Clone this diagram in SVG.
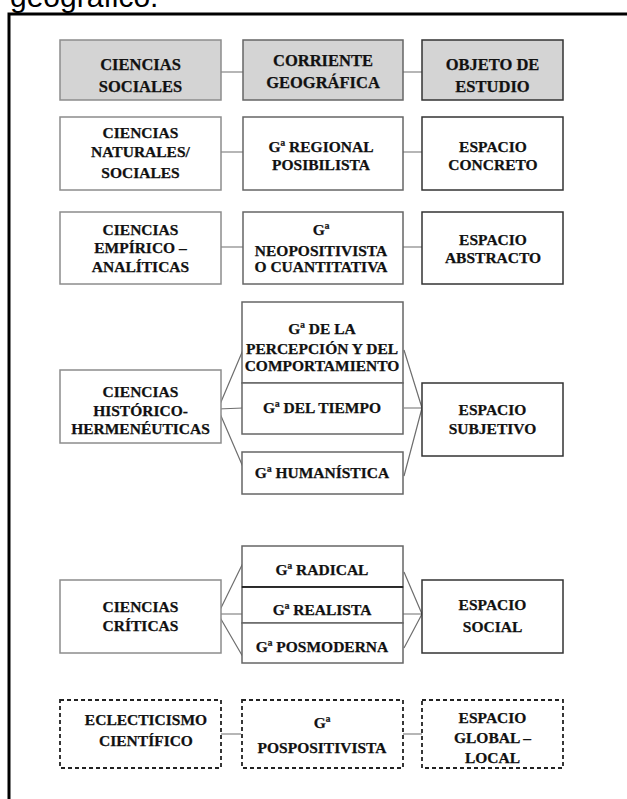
<svg xmlns="http://www.w3.org/2000/svg" width="627" height="799" viewBox="0 0 627 799">
<style>
.t{font-family:"Liberation Serif","Times New Roman",serif;font-weight:bold;font-size:15.5px;fill:#111;stroke:#111;stroke-width:0.25;text-anchor:middle}
.h{font-size:16.5px}
.b1{fill:#fff;stroke:#8c8c8c;stroke-width:1.5}
.b2{fill:#fff;stroke:#666;stroke-width:1.5}
.b3{fill:#fff;stroke:#333;stroke-width:1.5}
.hd{fill:#d4d4d4}
.d{fill:#fff;stroke:#222;stroke-width:1.8;stroke-dasharray:4 3}
.c{stroke:#6e6e6e;stroke-width:1.2;fill:none}
</style>
<rect width="627" height="799" fill="#fff"/>
<text x="10" y="7" font-family="Liberation Sans, Arial, sans-serif" font-size="30" fill="#000">geográfico.</text>
<path d="M9,799 V14 H627" fill="none" stroke="#000" stroke-width="3"/>

<g id="connectors">
<path class="c" d="M221,72 H243 M403,72 H422"/>
<path class="c" d="M221,152 H243 M403,152 H422"/>
<path class="c" d="M221,247 H243 M403,247 H422"/>
<path class="c" d="M218,409 L243,350 M218,409 L243,408 M218,409 L243,467 M404,350 L422,408 M404,408 L422,408 M404,476 L422,408"/>
<path class="c" d="M218,614 L243,563 M218,614 L243,614 M218,614 L243,657 M404,572 L422,614 M398,614 L422,614 M404,648 L422,614"/>
<path class="c" d="M221,734 H241 M397,734 H422"/>
</g>

<g id="h1"><rect class="b1 hd" x="60" y="40" width="161" height="60"/><text class="t h" x="140.5"><tspan x="140.5" y="70">CIENCIAS</tspan><tspan x="140.5" y="92">SOCIALES</tspan></text></g>
<g id="h2"><rect class="b2 hd" x="243" y="40" width="160" height="60"/><text class="t h"><tspan x="323" y="66">CORRIENTE</tspan><tspan x="323" y="88">GEOGRÁFICA</tspan></text></g>
<g id="h3"><rect class="b3 hd" x="422" y="40" width="141" height="60"/><text class="t h"><tspan x="492.5" y="70">OBJETO  DE</tspan><tspan x="492.5" y="92">ESTUDIO</tspan></text></g>

<g id="r2a"><rect class="b1" x="60" y="117" width="161" height="73"/><text class="t"><tspan x="140.5" y="138">CIENCIAS</tspan><tspan x="140.5" y="157">NATURALES/</tspan><tspan x="140.5" y="178">SOCIALES</tspan></text></g>
<g id="r2b"><rect class="b2" x="243" y="117" width="160" height="73"/><text class="t"><tspan x="321" y="152">Gª REGIONAL</tspan><tspan x="321" y="170">POSIBILISTA</tspan></text></g>
<g id="r2c"><rect class="b3" x="422" y="117" width="141" height="73"/><text class="t"><tspan x="493" y="152">ESPACIO</tspan><tspan x="493" y="170">CONCRETO</tspan></text></g>

<g id="r3a"><rect class="b1" x="60" y="212" width="161" height="72"/><text class="t"><tspan x="140.5" y="235">CIENCIAS</tspan><tspan x="140.5" y="253">EMPÍRICO –</tspan><tspan x="140.5" y="272">ANALÍTICAS</tspan></text></g>
<g id="r3b"><rect class="b2" x="243" y="212" width="160" height="72"/><text class="t"><tspan x="321" y="235">Gª</tspan><tspan x="321" y="256">NEOPOSITIVISTA</tspan><tspan x="321" y="272">O CUANTITATIVA</tspan></text></g>
<g id="r3c"><rect class="b3" x="422" y="212" width="141" height="72"/><text class="t"><tspan x="493" y="245">ESPACIO</tspan><tspan x="493" y="263">ABSTRACTO</tspan></text></g>

<g id="r4a"><rect class="b1" x="60" y="370" width="161" height="73"/><text class="t"><tspan x="140.5" y="397">CIENCIAS</tspan><tspan x="140.5" y="416">HISTÓRICO-</tspan><tspan x="140.5" y="434">HERMENÉUTICAS</tspan></text></g>
<g id="r4b1"><rect class="b2" x="242" y="302" width="161" height="81"/><text class="t"><tspan x="322" y="334">Gª DE LA</tspan><tspan x="322" y="354">PERCEPCIÓN Y DEL</tspan><tspan x="322" y="371">COMPORTAMIENTO</tspan></text></g>
<g id="r4b2"><rect class="b2" x="242" y="383" width="161" height="51"/><text class="t"><tspan x="322" y="413">Gª DEL TIEMPO</tspan></text></g>
<g id="r4b3"><rect class="b2" x="242" y="452" width="161" height="42"/><text class="t"><tspan x="322" y="478">Gª HUMANÍSTICA</tspan></text></g>
<g id="r4c"><rect class="b3" x="422" y="383" width="141" height="73"/><text class="t"><tspan x="492.5" y="415">ESPACIO</tspan><tspan x="492.5" y="434">SUBJETIVO</tspan></text></g>

<g id="r5a"><rect class="b1" x="60" y="580" width="161" height="73"/><text class="t"><tspan x="140.5" y="612">CIENCIAS</tspan><tspan x="140.5" y="631">CRÍTICAS</tspan></text></g>
<g id="r5b1"><rect class="b2" x="242" y="546" width="161" height="41"/><text class="t"><tspan x="322" y="575">Gª RADICAL</tspan></text></g>
<g id="r5b2"><rect class="b2" x="242" y="587" width="161" height="36"/><text class="t"><tspan x="322" y="615">Gª REALISTA</tspan></text></g>
<g id="r5b3"><rect class="b2" x="242" y="623" width="161" height="40"/><text class="t"><tspan x="322" y="652">Gª POSMODERNA</tspan></text></g>
<line x1="242" y1="587" x2="403" y2="587" stroke="#111" stroke-width="1.5"/>
<g id="r5c"><rect class="b3" x="422" y="580" width="141" height="73"/><text class="t"><tspan x="492.5" y="610">ESPACIO</tspan><tspan x="492.5" y="632">SOCIAL</tspan></text></g>

<g id="r6a"><rect class="d" x="60" y="700" width="161" height="68"/><text class="t"><tspan x="146" y="725">ECLECTICISMO</tspan><tspan x="146" y="746">CIENTÍFICO</tspan></text></g>
<g id="r6b"><rect class="d" x="242" y="700" width="161" height="68"/><text class="t"><tspan x="322" y="728">Gª</tspan><tspan x="322" y="753">POSPOSITIVISTA</tspan></text></g>
<g id="r6c"><rect class="d" x="422" y="700" width="141" height="68"/><text class="t"><tspan x="492.5" y="723">ESPACIO</tspan><tspan x="492.5" y="743">GLOBAL –</tspan><tspan x="492.5" y="763">LOCAL</tspan></text></g>
</svg>
